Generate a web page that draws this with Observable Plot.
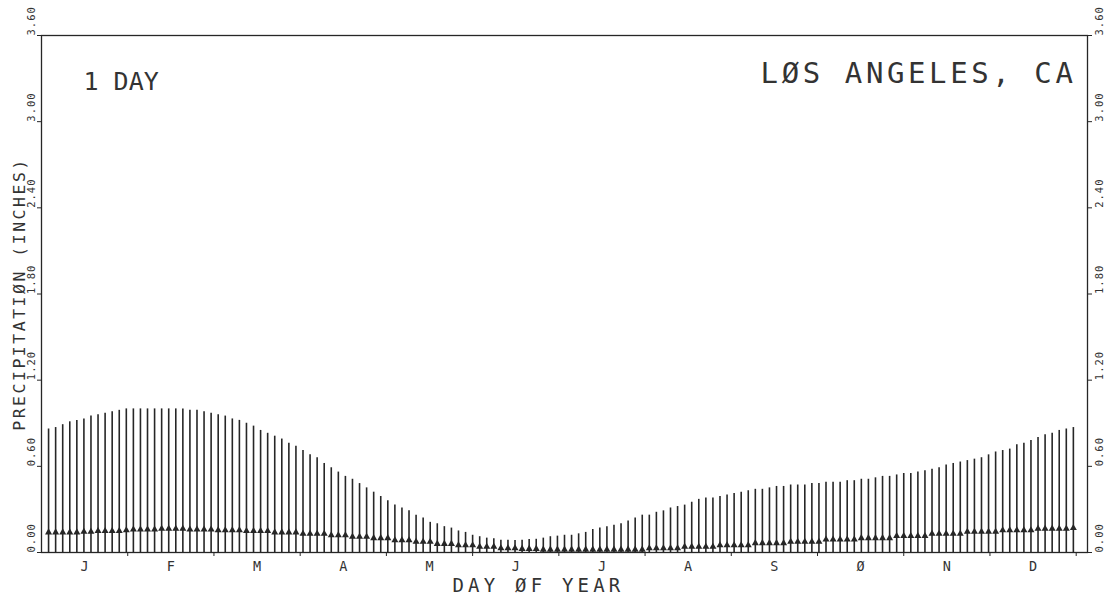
<!DOCTYPE html>
<html>
<head>
<meta charset="utf-8">
<script src="https://cdn.jsdelivr.net/npm/d3@7"></script>
<script src="https://cdn.jsdelivr.net/npm/@observablehq/plot@0.6"></script>
<style>
  html, body { margin: 0; padding: 0; background: #fff; }
  #chart { width: 1115px; height: 599px; }
</style>
</head>
<body>
<div id="chart"></div>
<script>
// Upper value (top of each vertical line), one per 2.5-day step
const upper = [
  0.86,0.87,0.89,0.91,0.92,0.93,0.95,0.96,0.97,0.98,
  0.99,1.00,1.00,1.00,1.00,1.00,1.00,1.00,1.00,1.00,
  0.99,0.99,0.98,0.97,0.96,0.95,0.93,0.92,0.90,0.88,
  0.85,0.83,0.81,0.79,0.76,0.74,0.71,0.68,0.66,0.62,
  0.59,0.56,0.53,0.51,0.48,0.45,0.42,0.39,0.36,0.33,
  0.31,0.29,0.26,0.24,0.21,0.20,0.18,0.17,0.15,0.14,
  0.12,0.11,0.10,0.095,0.085,0.085,0.083,0.085,0.09,0.092,
  0.10,0.11,0.114,0.12,0.12,0.13,0.14,0.16,0.17,0.18,
  0.19,0.20,0.22,0.24,0.26,0.26,0.28,0.29,0.31,0.32,
  0.33,0.35,0.37,0.38,0.38,0.39,0.40,0.41,0.42,0.43,
  0.44,0.44,0.45,0.46,0.46,0.47,0.47,0.47,0.48,0.48,
  0.49,0.49,0.49,0.50,0.50,0.51,0.51,0.52,0.53,0.53,
  0.54,0.55,0.55,0.56,0.57,0.58,0.59,0.61,0.62,0.63,
  0.64,0.65,0.66,0.68,0.70,0.71,0.72,0.75,0.76,0.78,
  0.80,0.82,0.83,0.85,0.86,0.87
];
// Lower value (triangle marker on each line)
const lower = [
  0.14,0.14,0.14,0.14,0.14,0.145,0.145,0.15,0.15,0.15,
  0.15,0.155,0.16,0.16,0.16,0.16,0.165,0.165,0.165,0.165,
  0.16,0.16,0.16,0.16,0.155,0.155,0.155,0.155,0.15,0.15,
  0.15,0.15,0.14,0.14,0.14,0.14,0.13,0.13,0.13,0.13,
  0.12,0.12,0.12,0.11,0.11,0.11,0.10,0.10,0.10,0.085,
  0.085,0.085,0.075,0.075,0.075,0.06,0.06,0.06,0.05,0.05,
  0.05,0.04,0.04,0.04,0.03,0.03,0.03,0.025,0.025,0.025,
  0.02,0.02,0.02,0.02,0.02,0.02,0.02,0.02,0.02,0.02,
  0.02,0.02,0.02,0.02,0.02,0.03,0.03,0.03,0.03,0.03,
  0.04,0.04,0.04,0.04,0.04,0.05,0.05,0.05,0.05,0.05,
  0.065,0.065,0.065,0.065,0.065,0.075,0.075,0.075,0.075,0.075,
  0.09,0.09,0.09,0.09,0.09,0.10,0.10,0.10,0.10,0.10,
  0.115,0.115,0.115,0.115,0.115,0.13,0.13,0.13,0.13,0.13,
  0.145,0.145,0.145,0.145,0.145,0.155,0.155,0.155,0.155,0.155,
  0.165,0.165,0.165,0.165,0.165,0.17
];
const dayStep = 2.5;
const yTicks = [0, 0.6, 1.2, 1.8, 2.4, 3.0, 3.6];
const monthLabels = ["J","F","M","A","M","J","J","A","S","Ø","N","D"];
const monthLength = 30.5;
const monthEnds = [30.5, 61, 91.5, 122, 152.5, 183, 213.5, 244, 274.5, 305, 335.5, 366];
const titleLeft = "1 DAY";
const titleRight = "LØS ANGELES, CA";
const xLabel = "DAY ØF YEAR";
const yLabel = "PRECIPITATIØN (INCHES)";

const data = upper.map((u, i) => ({day: (i + 1) * dayStep, upper: u, lower: lower[i]}));
const months = monthLabels.map((m, i) => ({mid: monthEnds[i] - monthLength / 2, label: m}));
const fmt = d => d.toFixed(2);
const ink = "#262626";
const textInk = "#333";

const chart = Plot.plot({
  width: 1115,
  height: 599,
  marginLeft: 41,
  marginRight: 28,
  marginTop: 35,
  marginBottom: 47,
  x: {domain: [0, 370]},
  y: {domain: [0, 3.6]},
  style: {fontFamily: "'DejaVu Sans Mono', monospace", background: "#fff", color: textInk},
  marks: [
    Plot.frame({stroke: ink, strokeWidth: 1.3}),
    Plot.ruleX(data, {x: "day", y1: 0, y2: "upper", stroke: ink, strokeWidth: 1.6}),
    Plot.dot(data, {x: "day", y: "lower", symbol: "triangle", r: 2.6, fill: ink, stroke: "none"}),
    Plot.axisY(yTicks, {anchor: "left", tickSize: 4, tickPadding: 3, tickRotate: -90, textAnchor: "start", lineAnchor: "bottom", tickFormat: fmt, fontSize: 10.5, label: null, stroke: ink}),
    Plot.axisY(yTicks, {anchor: "right", tickSize: 4, tickPadding: 4, tickRotate: -90, textAnchor: "start", lineAnchor: "top", tickFormat: fmt, fontSize: 10.5, label: null, stroke: ink}),
    Plot.axisX(monthEnds, {tickSize: 4, tickFormat: () => "", label: null, stroke: ink}),
    Plot.text(months, {x: "mid", text: "label", frameAnchor: "bottom", dy: 18, fontSize: 13.5, fill: textInk}),
    Plot.text([titleLeft], {frameAnchor: "top-left", dx: 42, dy: 37, lineAnchor: "top", textAnchor: "start", fontSize: 25, fill: textInk}),
    Plot.text([titleRight], {frameAnchor: "top-right", dx: -11, dy: 27, lineAnchor: "top", textAnchor: "end", fontSize: 29, fill: textInk}),
    Plot.text([xLabel], {frameAnchor: "bottom", dx: -26, dy: 26, lineAnchor: "top", textAnchor: "middle", fontSize: 19, fill: textInk}),
    Plot.text([yLabel], {frameAnchor: "left", dx: -17, rotate: -90, lineAnchor: "bottom", textAnchor: "middle", fontSize: 16.5, fill: textInk})
  ]
});

// letter spacing to mimic the wide plotter lettering
const spacing = new Map([[titleRight, 3.6], [xLabel, 4.2], [yLabel, 2.5]]);
chart.querySelectorAll("text").forEach(t => {
  const s = t.textContent;
  if (spacing.has(s)) t.setAttribute("letter-spacing", spacing.get(s));
  else if (/^\d\.\d\d$/.test(s)) t.setAttribute("letter-spacing", 1);
});
document.getElementById("chart").appendChild(chart);
</script>
</body>
</html>
